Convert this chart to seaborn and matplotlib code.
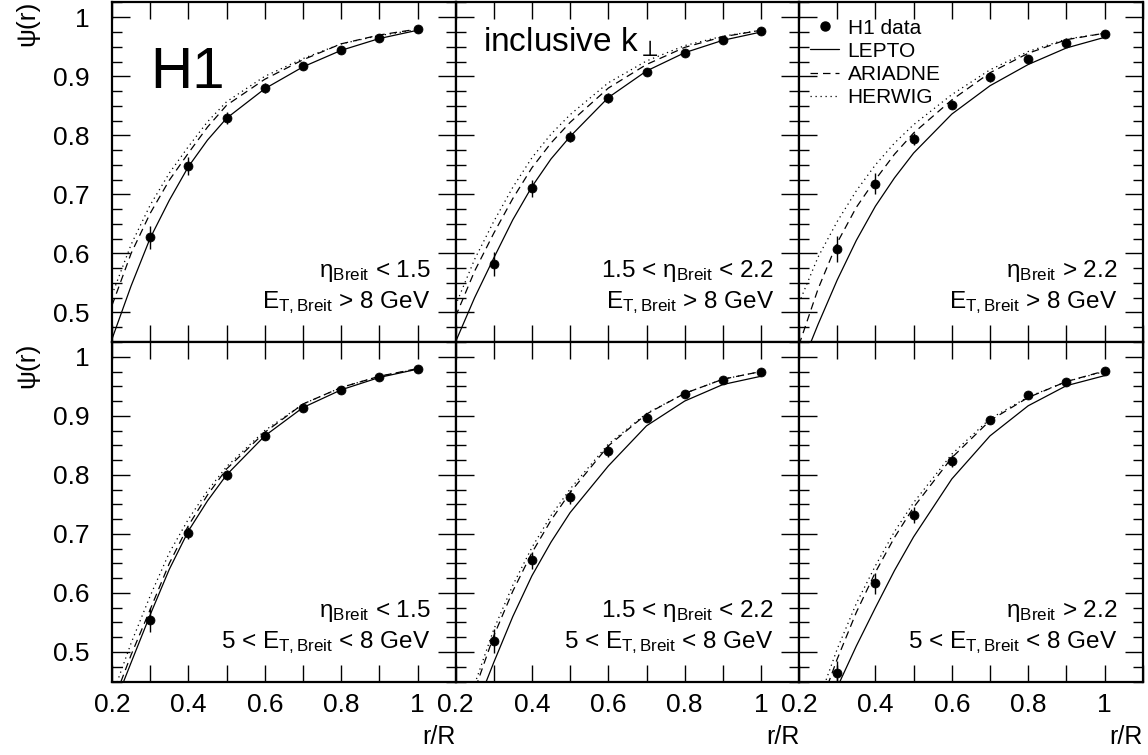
import numpy as np
import pandas as pd
import matplotlib
matplotlib.use('Agg')
import matplotlib.pyplot as plt
import seaborn as sns
from matplotlib.lines import Line2D
from matplotlib.ticker import MultipleLocator, FuncFormatter

# DATA
R_DATA = [0.3, 0.4, 0.5, 0.6, 0.7, 0.8, 0.9, 1.0]
R_MODEL = [0.2, 0.25, 0.3, 0.35, 0.4, 0.45, 0.5, 0.6, 0.7, 0.8, 0.9, 1.0]

# H1 data points per panel (row-major: top-left ... bottom-right)
psi_data = [
    [0.627, 0.748, 0.830, 0.880, 0.917, 0.944, 0.965, 0.980],
    [0.582, 0.710, 0.798, 0.863, 0.908, 0.939, 0.961, 0.976],
    [0.607, 0.718, 0.794, 0.852, 0.898, 0.929, 0.956, 0.971],
    [0.554, 0.701, 0.800, 0.866, 0.914, 0.943, 0.965, 0.980],
    [0.519, 0.655, 0.763, 0.841, 0.897, 0.937, 0.961, 0.975],
    [0.465, 0.616, 0.732, 0.824, 0.893, 0.935, 0.958, 0.976],
]
psi_err = [
    [0.020, 0.015, 0.010, 0.008, 0.005, 0.004, 0.003, 0.002],
    [0.020, 0.015, 0.010, 0.008, 0.006, 0.004, 0.003, 0.002],
    [0.022, 0.018, 0.010, 0.008, 0.007, 0.005, 0.004, 0.003],
    [0.020, 0.010, 0.008, 0.006, 0.004, 0.003, 0.003, 0.002],
    [0.020, 0.015, 0.012, 0.010, 0.007, 0.005, 0.004, 0.003],
    [0.020, 0.018, 0.013, 0.010, 0.007, 0.005, 0.004, 0.003],
]

lepto = [
    [0.455, 0.545, 0.626, 0.690, 0.747, 0.792, 0.829, 0.879, 0.916, 0.944, 0.964, 0.978],
    [0.450, 0.525, 0.592, 0.657, 0.713, 0.760, 0.798, 0.864, 0.909, 0.940, 0.961, 0.975],
    [0.400, 0.480, 0.555, 0.622, 0.680, 0.728, 0.770, 0.836, 0.884, 0.920, 0.948, 0.966],
    [0.400, 0.482, 0.563, 0.640, 0.705, 0.756, 0.800, 0.866, 0.914, 0.944, 0.965, 0.979],
    [0.300, 0.400, 0.482, 0.560, 0.629, 0.686, 0.736, 0.815, 0.883, 0.925, 0.953, 0.967],
    [0.240, 0.340, 0.440, 0.510, 0.575, 0.638, 0.695, 0.793, 0.866, 0.917, 0.951, 0.968],
]
ariadne = [
    [0.512, 0.600, 0.668, 0.724, 0.770, 0.814, 0.851, 0.895, 0.928, 0.955, 0.970, 0.980],
    [0.493, 0.570, 0.634, 0.693, 0.745, 0.787, 0.822, 0.880, 0.920, 0.949, 0.967, 0.978],
    [0.445, 0.540, 0.618, 0.678, 0.725, 0.768, 0.804, 0.860, 0.906, 0.939, 0.962, 0.973],
    [0.410, 0.495, 0.572, 0.650, 0.714, 0.766, 0.810, 0.872, 0.920, 0.948, 0.967, 0.980],
    [0.340, 0.435, 0.527, 0.603, 0.668, 0.723, 0.770, 0.849, 0.903, 0.938, 0.962, 0.975],
    [0.300, 0.400, 0.488, 0.567, 0.635, 0.694, 0.745, 0.829, 0.892, 0.931, 0.958, 0.976],
]
herwig = [
    [0.530, 0.615, 0.682, 0.736, 0.781, 0.823, 0.857, 0.900, 0.930, 0.955, 0.969, 0.979],
    [0.512, 0.590, 0.654, 0.712, 0.762, 0.802, 0.835, 0.889, 0.926, 0.952, 0.968, 0.978],
    [0.516, 0.594, 0.654, 0.706, 0.750, 0.787, 0.818, 0.869, 0.911, 0.942, 0.963, 0.973],
    [0.425, 0.515, 0.595, 0.668, 0.725, 0.773, 0.814, 0.875, 0.920, 0.948, 0.967, 0.979],
    [0.350, 0.445, 0.538, 0.613, 0.677, 0.731, 0.776, 0.852, 0.904, 0.938, 0.962, 0.975],
    [0.310, 0.415, 0.505, 0.582, 0.646, 0.704, 0.753, 0.835, 0.895, 0.932, 0.958, 0.975],
]

eta_labels = ['η$_{\\mathrm{Breit}}$ < 1.5', '1.5 < η$_{\\mathrm{Breit}}$ < 2.2', 'η$_{\\mathrm{Breit}}$ > 2.2']
et_labels = ['E$_{\\mathrm{T,Breit}}$ > 8 GeV', '5 < E$_{\\mathrm{T,Breit}}$ < 8 GeV']

MODELS = ['LEPTO', 'ARIADNE', 'HERWIG']
DASHES = {'LEPTO': '', 'ARIADNE': (6, 4), 'HERWIG': (1, 3)}

# STYLE
sns.set_theme(style='ticks')
plt.rcParams['font.family'] = ['Liberation Sans', 'DejaVu Sans']
plt.rcParams['mathtext.fontset'] = 'custom'
plt.rcParams['mathtext.rm'] = 'Liberation Sans'
plt.rcParams['mathtext.it'] = 'Liberation Sans'
plt.rcParams['mathtext.bf'] = 'Liberation Sans:bold'
for k in ['text.color', 'axes.labelcolor', 'xtick.color', 'ytick.color', 'axes.edgecolor']:
    plt.rcParams[k] = 'black'

fig = plt.figure(figsize=(11.48, 7.55), dpi=100)

W, H = 1148, 755
col_x = [112, 455.5, 799]
pw = 343.8
row_top = [2.5, 342.0]
ph = 339.5

for i in range(6):
    row, col = divmod(i, 3)
    ax = fig.add_axes([col_x[col] / W, 1 - (row_top[row] + ph) / H, pw / W, ph / H])

    # model curves
    frames = []
    for name, arr in zip(MODELS, [lepto, ariadne, herwig]):
        frames.append(pd.DataFrame({'r': R_MODEL, 'psi': arr[i], 'model': name}))
    mdf = pd.concat(frames, ignore_index=True)
    sns.lineplot(data=mdf, x='r', y='psi', style='model', style_order=MODELS,
                 dashes=DASHES, color='black', linewidth=0.9, legend=False, ax=ax)

    # data points
    ddf = pd.DataFrame({'r': R_DATA, 'psi': psi_data[i], 'err': psi_err[i]})
    ax.errorbar(ddf['r'], ddf['psi'], yerr=ddf['err'], fmt='none', ecolor='black', elinewidth=1.0, zorder=4)
    sns.scatterplot(data=ddf, x='r', y='psi', color='black', s=42, edgecolor='black', zorder=5, ax=ax)

    ax.set_xlim(0.2, 1.1)
    ax.set_ylim(0.45, 1.025)
    ax.set_xlabel('')
    ax.set_ylabel('')

    ax.xaxis.set_major_locator(MultipleLocator(0.2))
    ax.xaxis.set_minor_locator(MultipleLocator(0.1))
    ax.yaxis.set_major_locator(MultipleLocator(0.1))
    ax.yaxis.set_minor_locator(MultipleLocator(0.025))
    fmt = FuncFormatter(lambda v, p: ('%g' % round(v, 2)))
    ax.xaxis.set_major_formatter(fmt)
    ax.yaxis.set_major_formatter(fmt)

    ax.tick_params(which='both', direction='in', top=True, right=True, color='black', width=1.0)
    ax.tick_params(axis='x', which='both', length=12, labelsize=19, pad=8)
    ax.tick_params(axis='y', which='major', length=13, labelsize=19, pad=16)
    ax.tick_params(axis='y', which='minor', length=7)
    if row == 0:
        ax.tick_params(axis='x', labelbottom=False)
    if col > 0:
        ax.tick_params(axis='y', labelleft=False)
    for sp in ax.spines.values():
        sp.set_visible(True)
        sp.set_linewidth(1.6)
        sp.set_color('black')

    ax.text(1.033, 0.56, eta_labels[col], ha='right', va='baseline', fontsize=17.5)
    ax.text(1.033, 0.507, et_labels[row], ha='right', va='baseline', fontsize=17.5)

    if i == 0:
        ax.text(0.3, 0.88, 'H1', ha='left', va='baseline', fontsize=42)
    if i == 1:
        ax.text(0.272, 0.941, 'inclusive k$_{\\perp}$', ha='left', va='baseline', fontsize=24)
    if i == 2:
        handles = [
            Line2D([], [], color='black', marker='o', linestyle='none', markersize=6.5),
            Line2D([], [], color='black', linewidth=0.9, linestyle='-'),
            Line2D([], [], color='black', linewidth=0.9, dashes=(6, 4)),
            Line2D([], [], color='black', linewidth=0.9, dashes=(1, 3)),
        ]
        ax.legend(handles, ['H1 data'] + MODELS, loc='upper left', bbox_to_anchor=(0.02, 0.965),
                  frameon=False, fontsize=15, handlelength=1.4, handletextpad=0.4,
                  labelspacing=0.2, borderpad=0.2, borderaxespad=0.0)
    if row == 1:
        ax.set_xlabel('r/R', loc='right', fontsize=18, labelpad=6)

fig.text(27 / W, 1 - 1 / H, 'ψ(r)', rotation=90, ha='center', va='top', fontsize=19)
fig.text(27 / W, 1 - 343 / H, 'ψ(r)', rotation=90, ha='center', va='top', fontsize=19)

fig.savefig('out.png', dpi=100)
